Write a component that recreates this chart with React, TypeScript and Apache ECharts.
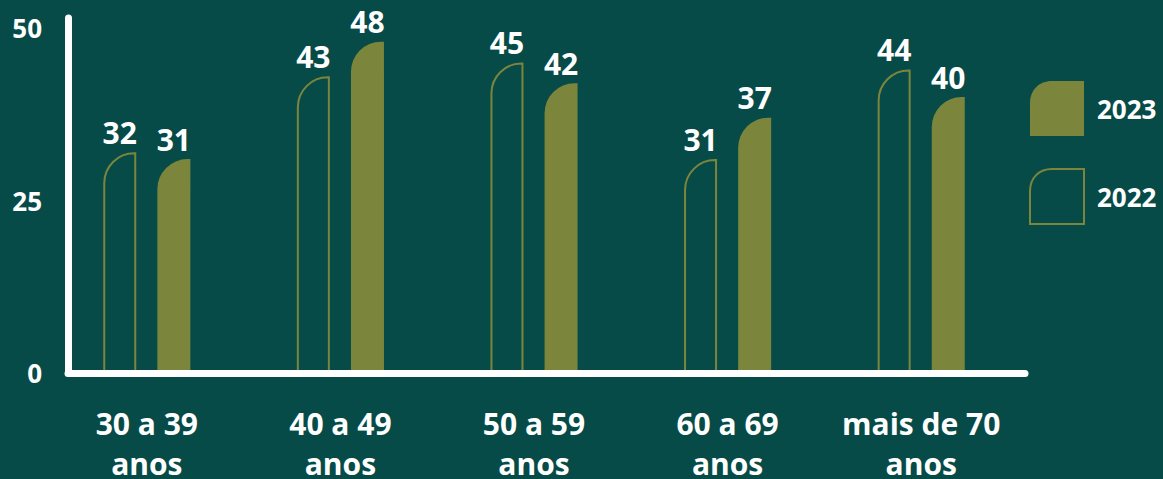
import React, { useEffect, useRef } from "react";
import * as echarts from "echarts";

const categories = ["30 a 39\nanos", "40 a 49\nanos", "50 a 59\nanos", "60 a 69\nanos", "mais de 70\nanos"];
const values2022 = [32, 43, 45, 31, 44];
const values2023 = [31, 48, 42, 37, 40];
const yTicks = { min: 0, max: 50, interval: 25 };

const BG = "#064b48";
const OLIVE = "#7b863c";
const FONT = "'Open Sans', 'Noto Sans', sans-serif";
const ICON = "path://M0,22 C0,9 9,0 22,0 L54,0 L54,55 L0,55 Z";

export default function App() {
  const ref = useRef<HTMLDivElement>(null);
  useEffect(() => {
    if (!ref.current) return;
    const chart = echarts.init(ref.current, undefined, { renderer: "svg" });
    const label = {
      show: true,
      position: "top",
      distance: 5,
      color: "#ffffff",
      fontSize: 30,
      fontWeight: "bold",
      fontFamily: FONT,
    };
    chart.setOption({
      animation: false,
      backgroundColor: BG,
      textStyle: { fontFamily: FONT },
      legend: {
        orient: "vertical",
        left: 1029,
        top: 81,
        padding: 0,
        itemWidth: 54,
        itemHeight: 55,
        itemGap: 32,
        data: [
          { name: "2023", icon: ICON },
          { name: "2022", icon: ICON },
        ],
        textStyle: {
          color: "#ffffff",
          fontSize: 26,
          fontWeight: "bold",
          fontFamily: FONT,
          padding: [0, 0, 8, 8],
        },
      },
      grid: [
        { left: 50, right: 145, top: 28, bottom: 106, outerBoundsMode: "none", containLabel: false },
        { left: 68, right: 138, top: 18, bottom: 106, outerBoundsMode: "none", containLabel: false },
      ],
      xAxis: [
        {
          type: "category",
          gridIndex: 0,
          data: categories,
          axisLine: { show: false },
          axisTick: { show: false },
          axisLabel: {
            color: "#ffffff",
            fontSize: 30,
            fontWeight: "bold",
            fontFamily: FONT,
            margin: 30,
            lineHeight: 40,
            interval: 0,
          },
        },
        {
          type: "value",
          gridIndex: 1,
          min: 0,
          max: 1,
          z: 5,
          axisLine: { show: true, lineStyle: { color: "#ffffff", width: 7, cap: "round" } },
          axisTick: { show: false },
          axisLabel: { show: false },
          splitLine: { show: false },
        },
      ],
      yAxis: [
        {
          type: "value",
          gridIndex: 0,
          min: yTicks.min,
          max: yTicks.max,
          interval: yTicks.interval,
          axisLine: { show: false },
          axisTick: { show: false },
          splitLine: { show: false },
          axisLabel: {
            color: "#ffffff",
            fontSize: 26,
            fontWeight: "bold",
            fontFamily: FONT,
            margin: 8,
          },
        },
        {
          type: "value",
          gridIndex: 1,
          min: 0,
          max: 1,
          z: 5,
          axisLine: { show: true, lineStyle: { color: "#ffffff", width: 7, cap: "round" } },
          axisTick: { show: false },
          axisLabel: { show: false },
          splitLine: { show: false },
        },
      ],
      series: [
        {
          name: "2022",
          type: "bar",
          xAxisIndex: 0,
          yAxisIndex: 0,
          data: values2022,
          barWidth: 33,
          barGap: "64%",
          itemStyle: {
            color: "rgba(0,0,0,0)",
            borderColor: OLIVE,
            borderWidth: 2,
            borderRadius: [30, 0, 0, 0],
          },
          label,
        },
        {
          name: "2023",
          type: "bar",
          xAxisIndex: 0,
          yAxisIndex: 0,
          data: values2023,
          barWidth: 33,
          barGap: "64%",
          itemStyle: {
            color: OLIVE,
            borderRadius: [30, 0, 0, 0],
          },
          label,
        },
      ],
    });
    return () => chart.dispose();
  }, []);
  return (
    <div
      ref={ref}
      style={{ position: "fixed", left: 0, top: 0, width: 1163, height: 479, background: BG }}
    />
  );
}
